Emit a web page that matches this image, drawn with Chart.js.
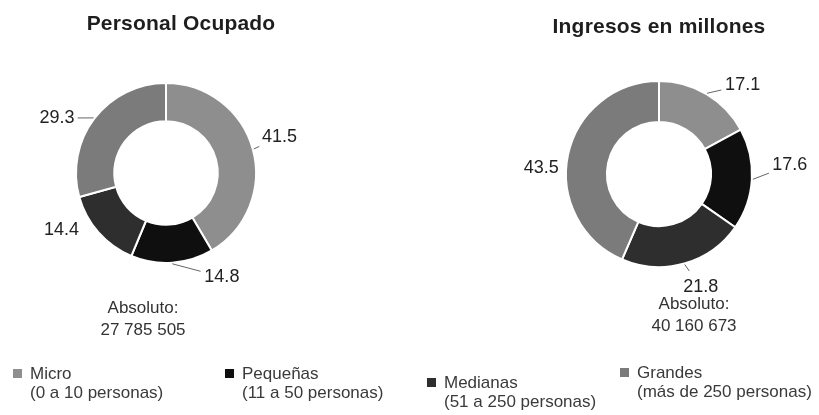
<!DOCTYPE html>
<html>
<head>
<meta charset="utf-8">
<script src="https://cdn.jsdelivr.net/npm/chart.js@4"></script>
<style>
  body { margin: 0; background: #fff; }
  #wrap { position: relative; width: 819px; height: 415px; overflow: hidden; background: #fff;
          font-family: "Liberation Sans", Arial, sans-serif; color: #2a2a2a; }
  canvas { position: absolute; }
  .title { position: absolute; font-weight: bold; font-size: 21px; letter-spacing: 0.2px; transform: translate(-50%, -50%); white-space: nowrap; color: #1e1e1e; }
  .abs { position: absolute; font-size: 17px; line-height: 22px; text-align: center; transform: translateX(-50%); white-space: nowrap; color: #333; }
  .leg { position: absolute; font-size: 17px; line-height: 19px; white-space: nowrap; color: #3a3a3a; }
  .leg i { position: absolute; width: 9px; height: 9px; }
</style>
</head>
<body>
<div id="wrap">
  <canvas id="chartPersonal" width="332" height="346" style="left:0;top:0"></canvas>
  <canvas id="chartIngresos" width="320" height="348" style="left:499px;top:0"></canvas>
</div>
<script>
// datos (porcentajes)
const categories = ['Micro', 'Pequeñas', 'Medianas', 'Grandes'];
const categoryNotes = ['(0 a 10 personas)', '(11 a 50 personas)', '(51 a 250 personas)', '(más de 250 personas)'];
const personalOcupado = [41.5, 14.8, 14.4, 29.3];
const ingresos = [17.1, 17.6, 21.8, 43.5];
const chartTitles = ['Personal Ocupado', 'Ingresos en millones'];
const absolutos = ['27 785 505', '40 160 673'];

const colors = ['#8e8e8e', '#0f0f0f', '#2e2e2e', '#7b7b7b'];

// posicion de las etiquetas: desplazamiento angular (grados) y distancia al anillo
const labelStyle = {
    personal: { nudge: [-2.3, -24.3, 12.8, -10.5], gap: [29, 28, 29, 32], leader: [true, true, false, true] },
    ingresos: { nudge: [12.5, -7.1, -4.4, -8.8], gap: [29, 38, 27.5, 25], leader: [true, true, true, false] }
};

const outsideLabels = {
    id: 'outsideLabels',
    afterDatasetsDraw(chart, args, opts) {
        const ctx = chart.ctx;
        const meta = chart.getDatasetMeta(0);
        const values = chart.data.datasets[0].data;
        ctx.save();
        ctx.font = '18px "Liberation Sans", Arial, sans-serif';
        ctx.textAlign = 'center';
        ctx.textBaseline = 'middle';
        meta.data.forEach((arc, i) => {
            const p = arc.getProps(['x', 'y', 'startAngle', 'endAngle', 'outerRadius'], true);
            const mid = (p.startAngle + p.endAngle) / 2;
            const a = mid + opts.nudge[i] * Math.PI / 180;
            const r = p.outerRadius + opts.gap[i];
            const lx = p.x + r * Math.cos(a);
            const ly = p.y + r * Math.sin(a);
            const text = values[i].toFixed(1);
            const w = ctx.measureText(text).width;
            if (opts.leader[i]) {
                const rx = p.x + (p.outerRadius + 1) * Math.cos(mid);
                const ry = p.y + (p.outerRadius + 1) * Math.sin(mid);
                let ux = lx - rx, uy = ly - ry;
                const len = Math.hypot(ux, uy);
                ux /= len; uy /= len;
                const cut = Math.abs(ux) * w / 2 + Math.abs(uy) * 8 + 3;
                ctx.strokeStyle = '#666';
                ctx.lineWidth = 1;
                ctx.beginPath();
                ctx.moveTo(rx, ry);
                ctx.lineTo(lx - ux * cut, ly - uy * cut);
                ctx.stroke();
            }
            ctx.fillStyle = '#222';
            ctx.fillText(text, lx, ly);
        });
        ctx.restore();
    }
};

function makeDoughnut(id, values, radius, cutout, style) {
    return new Chart(document.getElementById(id), {
        type: 'doughnut',
        data: {
            labels: categories,
            datasets: [{
                data: values,
                backgroundColor: colors,
                borderColor: '#fff',
                borderWidth: 2
            }]
        },
        options: {
            responsive: false,
            animation: false,
            radius: radius,
            cutout: cutout,
            layout: { padding: 0 },
            plugins: {
                legend: { display: false },
                tooltip: { enabled: false },
                outsideLabels: style
            }
        },
        plugins: [outsideLabels]
    });
}

makeDoughnut('chartPersonal', personalOcupado, 90, '57.5%', labelStyle.personal);
makeDoughnut('chartIngresos', ingresos, 93, '56%', labelStyle.ingresos);

// textos: titulos, absolutos y leyenda
const wrap = document.getElementById('wrap');
function addDiv(cls, html, css) {
    const d = document.createElement('div');
    d.className = cls;
    d.innerHTML = html;
    Object.assign(d.style, css);
    wrap.appendChild(d);
    return d;
}

addDiv('title', chartTitles[0], { left: '181px', top: '23px' });
addDiv('title', chartTitles[1], { left: '659px', top: '26px' });
addDiv('abs', 'Absoluto:<br>' + absolutos[0], { left: '143px', top: '297px' });
addDiv('abs', 'Absoluto:<br>' + absolutos[1], { left: '694px', top: '293px' });

const legendX = [30, 242, 444, 637];
const legendY = [364, 364, 373, 363];
categories.forEach((c, i) => {
    const d = addDiv('leg', c + '<br>' + categoryNotes[i], { left: legendX[i] + 'px', top: legendY[i] + 'px' });
    const box = document.createElement('i');
    box.style.background = colors[i];
    box.style.left = '-17px';
    box.style.top = '5px';
    d.appendChild(box);
});
</script>
</body>
</html>
